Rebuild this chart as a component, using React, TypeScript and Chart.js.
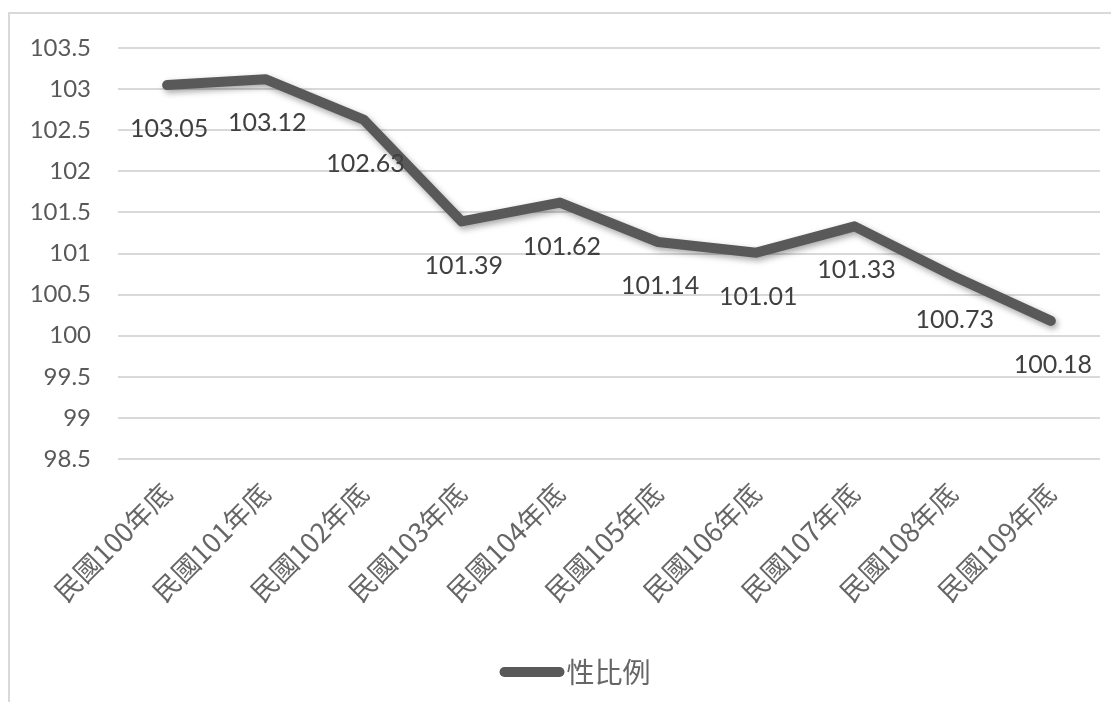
import React, { useEffect, useRef } from 'react';
import { Chart, registerables } from 'chart.js';

Chart.register(...registerables);

const categories = [
  '民國100年底', '民國101年底', '民國102年底', '民國103年底', '民國104年底',
  '民國105年底', '民國106年底', '民國107年底', '民國108年底', '民國109年底',
];
const sexRatio = [103.05, 103.12, 102.63, 101.39, 101.62, 101.14, 101.01, 101.33, 100.73, 100.18];
const seriesName = '性比例';
const yMin = 98.5;
const yMax = 103.5;
const yStep = 0.5;

const LINE_COLOR = '#595959';
const NUM_FONT = 'Lato, "Liberation Sans", sans-serif';
const CJK_FONT = '"Noto Sans CJK TC", "Noto Sans CJK SC", sans-serif';

const shadowPlugin = {
  id: 'lineShadow',
  beforeDatasetDraw(chart: any) {
    const c = chart.ctx;
    c.save();
    c.shadowColor = 'rgba(0,0,0,0.35)';
    c.shadowBlur = 6;
    c.shadowOffsetX = 2;
    c.shadowOffsetY = 3;
  },
  afterDatasetDraw(chart: any) {
    chart.ctx.restore();
  },
};

const dataLabelPlugin = {
  id: 'dataLabels',
  afterDatasetsDraw(chart: any) {
    const c = chart.ctx;
    const meta = chart.getDatasetMeta(0);
    const data = chart.data.datasets[0].data as number[];
    c.save();
    c.font = `25px ${NUM_FONT}`;
    c.fillStyle = '#404040';
    c.textAlign = 'center';
    c.textBaseline = 'middle';
    meta.data.forEach((pt: any, i: number) => {
      c.fillText(data[i].toFixed(2), pt.x + 2, pt.y + 44);
    });
    c.restore();
  },
};

// Custom bottom legend: line swatch + series name
const legendPlugin = {
  id: 'customLegend',
  afterDraw(chart: any) {
    const c = chart.ctx;
    const ds = chart.data.datasets[0];
    const y = chart.height - 30;
    const sw = 55;
    const x0 = chart.width / 2 - 56;
    c.save();
    c.strokeStyle = ds.borderColor;
    c.lineWidth = 10;
    c.lineCap = 'round';
    c.beginPath();
    c.moveTo(x0, y);
    c.lineTo(x0 + sw, y);
    c.stroke();
    c.font = `28px ${CJK_FONT}`;
    c.fillStyle = '#666666';
    c.textAlign = 'left';
    c.textBaseline = 'middle';
    c.fillText(ds.label, x0 + sw + 7, y);
    c.restore();
  },
};

export default function App() {
  const canvasRef = useRef<HTMLCanvasElement | null>(null);

  useEffect(() => {
    if (!canvasRef.current) return;
    const chart = new Chart(canvasRef.current, {
      type: 'line',
      data: {
        labels: categories,
        datasets: [
          {
            label: seriesName,
            data: sexRatio,
            borderColor: LINE_COLOR,
            backgroundColor: LINE_COLOR,
            borderWidth: 10,
            borderCapStyle: 'round',
            borderJoinStyle: 'round',
            pointRadius: 0,
            pointHoverRadius: 0,
            tension: 0,
          },
        ],
      },
      options: {
        animation: false,
        responsive: true,
        maintainAspectRatio: false,
        layout: { autoPadding: false, padding: { top: 34, left: 21, right: 11, bottom: 63 } },
        scales: {
          x: {
            offset: true,
            grid: { display: false },
            border: { display: false },
            ticks: {
              minRotation: 45,
              maxRotation: 45,
              padding: 10,
              color: '#666666',
              font: { family: CJK_FONT, size: 27 },
            },
            afterFit: (s: any) => {
              s.height = 180;
              s.paddingLeft = 0;
              s.paddingRight = 0;
            },
          },
          y: {
            min: yMin,
            max: yMax,
            grid: { color: '#d9d9d9', lineWidth: 2, drawTicks: false },
            border: { display: false },
            ticks: {
              stepSize: yStep,
              padding: 27,
              color: '#595959',
              font: { family: NUM_FONT, size: 24 },
              callback: (v: any) => String(Number(v)),
            },
            afterFit: (s: any) => {
              s.width = 87;
              s.paddingTop = 0;
              s.paddingBottom = 0;
            },
          },
        },
        plugins: {
          legend: { display: false },
          tooltip: { enabled: false },
        },
      },
      plugins: [shadowPlugin, dataLabelPlugin, legendPlugin],
    } as any);
    return () => chart.destroy();
  }, []);

  return (
    <div style={{ paddingTop: 4 }}>
      <div
        style={{
          width: 1103,
          height: 690,
          boxSizing: 'border-box',
          borderTop: '2px solid #d9d9d9',
          borderLeft: '2px solid #d9d9d9',
          background: '#fff',
        }}
      >
        <div style={{ position: 'relative', width: '100%', height: '100%' }}>
          <canvas ref={canvasRef} />
        </div>
      </div>
    </div>
  );
}
